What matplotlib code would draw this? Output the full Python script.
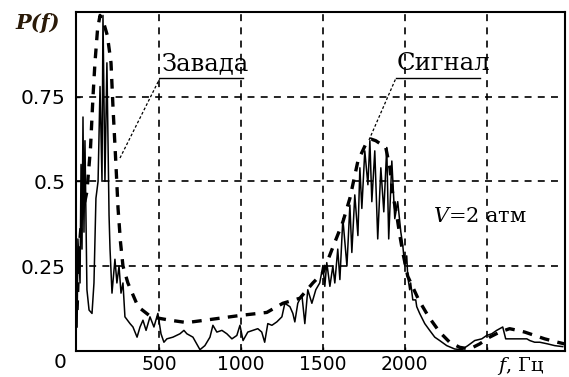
import matplotlib
matplotlib.use('Agg')
import matplotlib.pyplot as plt

# measured spectrum (solid)
freq_meas = [0, 5, 18, 24, 30, 36, 42, 48, 60, 73, 91, 103, 115, 128, 140, 152, 158, 170, 182,
             195, 201, 213, 231, 243, 256, 268, 280, 292, 323, 341, 366, 384, 402, 421, 445,
             469, 493, 512, 530, 548, 585, 628, 652, 670, 707, 750, 780, 811, 829, 853, 884,
             914, 945, 975, 994, 1013, 1042, 1073, 1103, 1127, 1145, 1164, 1189, 1219, 1250,
             1268, 1299, 1317, 1329, 1347, 1372, 1390, 1408, 1433, 1457, 1481, 1500, 1512,
             1524, 1543, 1561, 1573, 1591, 1604, 1622, 1647, 1665, 1677, 1695, 1714, 1726,
             1738, 1756, 1775, 1787, 1799, 1817, 1835, 1854, 1872, 1890, 1902, 1921, 1939,
             1957, 1976, 1988, 2000, 2012, 2018, 2030, 2036, 2049, 2067, 2073, 2091, 2122,
             2152, 2183, 2213, 2256, 2305, 2348, 2385, 2427, 2470, 2500, 2531, 2561, 2598,
             2616, 2671, 2745, 2763, 2793, 2824, 2873, 2915, 2964]
p_meas = [0.07, 0.33, 0.2, 0.55, 0.3, 0.69, 0.35, 0.62, 0.18, 0.12, 0.11, 0.2, 0.45, 0.5, 0.78,
          0.5, 0.99, 0.5, 0.85, 0.4, 0.3, 0.17, 0.27, 0.2, 0.25, 0.17, 0.2, 0.1, 0.08, 0.07,
          0.04, 0.07, 0.09, 0.06, 0.1, 0.07, 0.11, 0.05, 0.025, 0.035, 0.04, 0.05, 0.06, 0.05,
          0.04, 0.003, 0.015, 0.04, 0.075, 0.055, 0.06, 0.05, 0.035, 0.045, 0.075, 0.03,
          0.055, 0.06, 0.065, 0.055, 0.025, 0.08, 0.075, 0.085, 0.1, 0.14, 0.13, 0.11, 0.085,
          0.14, 0.165, 0.08, 0.18, 0.14, 0.18, 0.2, 0.25, 0.19, 0.26, 0.19, 0.25, 0.2, 0.3,
          0.21, 0.39, 0.25, 0.43, 0.29, 0.46, 0.34, 0.54, 0.42, 0.59, 0.49, 0.62, 0.44, 0.59,
          0.33, 0.54, 0.41, 0.6, 0.33, 0.56, 0.39, 0.44, 0.35, 0.31, 0.25, 0.28, 0.22, 0.18,
          0.2, 0.15, 0.15, 0.13, 0.11, 0.08, 0.06, 0.04, 0.03, 0.015, 0.005, 0.003, 0.015,
          0.03, 0.035, 0.045, 0.05, 0.06, 0.07, 0.035, 0.035, 0.035, 0.03, 0.025, 0.025, 0.02,
          0.015, 0.012]

# model spectrum (dashed)
freq_model = [0, 12, 30, 60, 82, 97, 109, 125, 140, 161, 185, 207, 219, 237, 250, 265, 280,
              310, 372, 451, 567, 670, 811, 994, 1158, 1256, 1360, 1439, 1500, 1573, 1622,
              1665, 1714, 1762, 1793, 1823, 1884, 1909, 1927, 1951, 1970, 1988, 2018, 2085,
              2146, 2213, 2274, 2335, 2396, 2457, 2518, 2579, 2640, 2689, 2732, 2793, 2854,
              2933, 2976]
p_model = [0.12, 0.3, 0.4, 0.47, 0.6, 0.75, 0.85, 0.95, 0.99, 0.97, 0.93, 0.85, 0.72, 0.55,
           0.42, 0.32, 0.25, 0.2, 0.13, 0.1, 0.09, 0.083, 0.092, 0.104, 0.113, 0.14, 0.155,
           0.2, 0.23, 0.32, 0.38, 0.45, 0.56, 0.61, 0.625, 0.62, 0.6, 0.54, 0.46, 0.4, 0.34,
           0.29, 0.22, 0.15, 0.1, 0.055, 0.025, 0.01, 0.005, 0.02, 0.04, 0.055, 0.065, 0.06,
           0.055, 0.045, 0.035, 0.025, 0.02]

x_ticks = [500, 1000, 1500, 2000, 2500]
x_tick_labels = ['500', '1000', '1500', '2000', '']
y_ticks = [0.25, 0.5, 0.75]
y_tick_labels = ['0.25', '0.5', '0.75']

plt.rcParams['lines.scale_dashes'] = False
plt.rcParams['mathtext.fontset'] = 'dejavuserif'

W, H = 569, 377
fig = plt.figure(figsize=(W / 100, H / 100), dpi=100)
L, R, T, B = 75.7, 565.0, 12.0, 350.7
ax = fig.add_axes([L / W, 1 - B / H, (R - L) / W, (B - T) / H])
ax.set_xlim(-8.5, 2978)
ax.set_ylim(0, 1.0)

ax.set_xticks(x_ticks)
ax.set_xticklabels(x_tick_labels)
ax.set_yticks(y_ticks)
ax.set_yticklabels(y_tick_labels)
ax.grid(True, color='black', linestyle=(0, (5, 4.5)), linewidth=1.2)
ax.set_axisbelow(True)
ax.tick_params(axis='both', direction='in', length=3, width=1, labelsize=14.5,
               labelfontfamily='DejaVu Sans')
ax.tick_params(axis='x', pad=3.0, labelsize=13.5)
ax.tick_params(axis='y', pad=7.5)
for s in ax.spines.values():
    s.set_linewidth(1.5)

ax.plot(freq_model, p_model, color='black', lw=2.4, linestyle=(0, (7, 6)))
ax.plot(freq_meas, p_meas, color='black', lw=1.1)

# annotations (axes-fraction positions)
def axf(px, py):
    return ((px - L) / (R - L), (B - py) / (B - T))

for (x0, y0), (x1, y1), (x2, y2) in [((120, 158), (160, 78), (243, 78)),
                                     ((369, 140), (396, 78), (480, 78))]:
    a0, b0 = axf(x0, y0)
    a1, b1 = axf(x1, y1)
    a2, b2 = axf(x2, y2)
    ax.plot([a0, a1], [b0, b1], transform=ax.transAxes, color='black', lw=0.9,
            linestyle=(0, (2, 1.5)), clip_on=False)
    ax.plot([a1, a2], [b1, b2], transform=ax.transAxes, color='black', lw=1.0, clip_on=False)

serif = 'DejaVu Serif'
fig.text(162 / W, 1 - 70 / H, 'Завада', family=serif, fontsize=17.5, ha='left', va='baseline')
fig.text(397 / W, 1 - 70 / H, 'Сигнал', family=serif, fontsize=17.5, ha='left', va='baseline')
fig.text(433 / W, 1 - 222 / H, '$V$=2 атм', family=serif, fontsize=15, ha='left', va='baseline')
fig.text(15 / W, 1 - 29 / H, 'P(f)', family=serif, fontsize=15, fontstyle='italic',
         fontweight='bold', ha='left', va='baseline', color='#2a1a08')
fig.text(497 / W, 1 - 371 / H, '$f$, Гц', family=serif, fontsize=14, ha='left', va='baseline')
fig.text(60 / W, 1 - 362.5 / H, '0', family='DejaVu Sans', fontsize=14.5, ha='center', va='center')

fig.savefig('out.png', dpi=100)
